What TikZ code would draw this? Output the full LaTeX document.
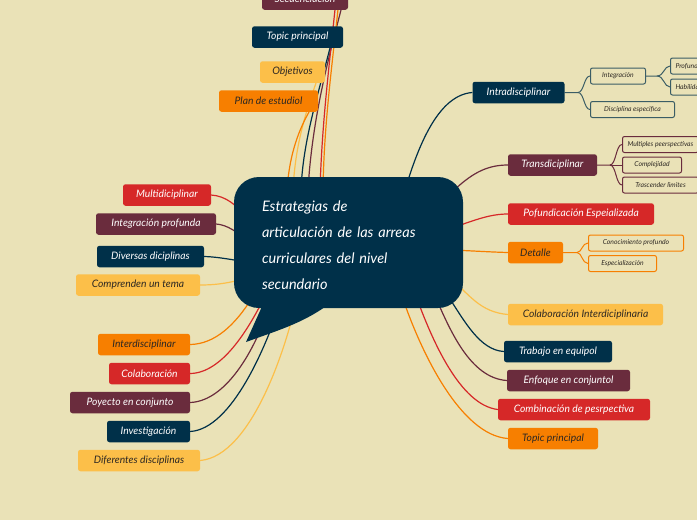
\documentclass[tikz,border=0pt]{standalone}
\usepackage{fontspec}
\setmainfont{Lato}
\pgfdeclarelayer{bg}
\pgfdeclarelayer{lines}
\pgfsetlayers{bg,lines,main}
\definecolor{navy}{RGB}{0,48,73}
\definecolor{maroon}{RGB}{106,44,61}
\definecolor{redc}{RGB}{214,40,40}
\definecolor{orangec}{RGB}{247,127,0}
\definecolor{yellowc}{RGB}{252,191,73}
\definecolor{bgc}{RGB}{234,226,183}
\definecolor{darktxt}{RGB}{45,40,35}
\tikzset{
  box/.style={rounded corners=2.5pt, minimum height=21.5pt, inner xsep=0pt, inner ysep=0pt,
    font=\itshape\fontsize{10.3}{12}\selectfont},
  bnavy/.style={box, fill=navy, text=white},
  bmaroon/.style={box, fill=maroon, text=white},
  bred/.style={box, fill=redc, text=white},
  borange/.style={box, fill=orangec, text=darktxt},
  byellow/.style={box, fill=yellowc, text=darktxt},
  sub/.style={draw=#1, line width=1pt, fill=bgc, rounded corners=2pt, minimum height=16pt,
    inner xsep=0pt, inner ysep=0pt, text=darktxt, font=\itshape\fontsize{6.8}{8}\selectfont, anchor=west},
  conn/.style={draw=#1, line width=1.2pt},
  sconn/.style={draw=#1, line width=1pt},
}
\begin{document}
\begin{tikzpicture}[x=1pt,y=-1pt]
\useasboundingbox (0,0) rectangle (697,520);
\clip (0,0) rectangle (697,520);
\begin{pgfonlayer}{bg}
\fill[bgc] (0,0) rectangle (697,520);
\end{pgfonlayer}

% central node
\fill[navy] (264,302) -- (246,342) .. controls (285,328) and (305,322) .. (332,302) -- cycle;
\node[fill=navy, rounded corners=25pt, minimum width=229pt, minimum height=131pt, inner sep=0pt] (c) at (348.5,242.5) {};
\node[text=white, align=left, text width=173pt, inner sep=0pt,
  font=\itshape\fontsize{14.5}{26}\selectfont] (ct) at (348.5,245) {Estrategias de\\articulación de las arreas\\curriculares del nivel\\secundario};

% top nodes
\node[bmaroon, minimum width=86pt] (sec) at (305,-1) {Secuenciación};
\node[bnavy, minimum width=91pt] (tp1) at (297.5,37) {Topic principal};
\node[byellow, minimum width=65pt] (obj) at (292.5,72) {Objetivos};
\node[borange, minimum width=99pt] (plan) at (268.5,101) {Plan de estudiol};
\coordinate (offr) at (337,-10);
\coordinate (offo) at (340,-10);

% left nodes
\node[bred, minimum width=88pt] (mul) at (167,195) {Multidiciplinar};
\node[bmaroon, minimum width=120pt] (intp) at (156,224) {Integración profunda};
\node[bnavy, minimum width=107pt] (div) at (150.5,256.5) {Diversas diciplinas};
\node[byellow, minimum width=124pt] (comp) at (138,285) {Comprenden un tema};
\node[borange, minimum width=92pt] (inter) at (144,344.5) {Interdisciplinar};
\node[bred, minimum width=81pt] (col) at (149.5,373.5) {Colaboración};
\node[bmaroon, minimum width=120pt] (poy) at (130,402.5) {Poyecto en conjunto};
\node[bnavy, minimum width=83pt] (inv) at (148.5,431.5) {Investigación};
\node[byellow, minimum width=122pt] (dif) at (139,460.5) {Diferentes disciplinas};

% right nodes
\node[bnavy, minimum width=92pt] (intra) at (518.5,92.5) {Intradisciplinar};
\node[bmaroon, minimum width=89pt] (trans) at (552.5,165) {Transdiciplinar};
\node[bred, minimum width=146pt] (pof) at (581,214) {Pofundicación Espeializada};
\node[borange, minimum width=55pt] (det) at (535.5,252.5) {Detalle};
\node[byellow, minimum width=155pt] (coli) at (585.5,314.5) {Colaboración Interdiciplinaria};
\node[bnavy, minimum width=108pt] (trab) at (558,351.5) {Trabajo en equipol};
\node[bmaroon, minimum width=123pt] (enf) at (568.5,380.5) {Enfoque en conjuntol};
\node[bred, minimum width=152pt] (comb) at (574,409.5) {Combinación de pesrpectiva};
\node[borange, minimum width=90pt] (tp2) at (553,438.5) {Topic principal};

% sub nodes
\node[sub=navy!75!bgc, minimum width=55pt] (integ) at (590,76) {Integración};
\node[sub=navy!75!bgc, minimum width=84pt] (dise) at (590,109.5) {Disciplina especifica};
\node[sub=navy!75!bgc, inner xsep=5pt] (prof) at (670,66) {Profundidad};
\node[sub=navy!75!bgc, inner xsep=5pt] (habil) at (670,87) {Habilidades};
\node[sub=maroon, inner xsep=5pt] (multp) at (622,144.5) {Multiples peerspectivas};
\node[sub=maroon, minimum width=59pt] (compl) at (622,165) {Complejidad};
\node[sub=maroon, minimum width=76pt] (trasc) at (622,185) {Trascender limites};
\node[sub=orangec, minimum width=95pt] (cono) at (588,243) {Conocimiento profundo};
\node[sub=orangec, minimum width=68pt] (espe) at (588,263.5) {Especialización};

\begin{pgfonlayer}{lines}
% top
\draw[conn=maroon] (341,10) .. controls (328,60) and (312,120) .. (308,190);
\draw[conn=redc] (offr) .. controls (330,60) and (322,120) .. (320,190);
\draw[conn=orangec] (offo) .. controls (333,60) and (324,120) .. (323,190);
\draw[conn=navy] (330,48) .. controls (318,95) and (303,140) .. (301,190);
\draw[conn=yellowc] (316,83) .. controls (303,120) and (295,150) .. (293,190);
\draw[conn=orangec] (309,112) .. controls (296,135) and (289,160) .. (287,190);
% left
\draw[conn=redc] (mul.east) .. controls (226,196) and (236,205) .. (248,218);
\draw[conn=maroon] (intp.east) .. controls (228,225) and (236,232) .. (248,240);
\draw[conn=navy] (div.east) .. controls (220,257) and (232,260) .. (248,262);
\draw[conn=yellowc] (comp.east) .. controls (220,285) and (232,282) .. (248,278);
\draw[conn=orangec] (inter.east) .. controls (215,344) and (235,325) .. (252,298);
\draw[conn=redc] (col.east) .. controls (222,373) and (248,330) .. (264,298);
\draw[conn=maroon] (poy.east) .. controls (228,401) and (258,345) .. (272,298);
\draw[conn=navy] (inv.east) .. controls (232,429) and (267,345) .. (282,298);
\draw[conn=yellowc] (dif.east) .. controls (252,456) and (287,345) .. (297,298);
% right
\draw[conn=navy] (intra.west) .. controls (440,95) and (420,140) .. (405,190);
\draw[conn=maroon] (trans.west) .. controls (485,165) and (470,175) .. (452,192);
\draw[conn=redc] (pof.west) .. controls (490,214) and (475,220) .. (452,228);
\draw[conn=orangec] (det.west) .. controls (490,252) and (475,251) .. (452,250);
\draw[conn=yellowc] (coli.west) .. controls (480,312) and (470,295) .. (452,280);
\draw[conn=navy] (trab.west) .. controls (480,350) and (465,322) .. (448,296);
\draw[conn=maroon] (enf.west) .. controls (470,378) and (450,330) .. (435,296);
\draw[conn=redc] (comb.west) .. controls (460,405) and (432,340) .. (416,296);
\draw[conn=orangec] (tp2.west) .. controls (460,435) and (420,350) .. (402,296);
% sub branches
\draw[sconn=navy!75!bgc] (intra.east) -- (578,92.5) .. controls (584,92.5) and (584,76) .. (integ.west);
\draw[sconn=navy!75!bgc] (578,92.5) .. controls (584,92.5) and (584,109.5) .. (dise.west);
\draw[sconn=navy!75!bgc] (integ.east) -- (657,76) .. controls (664,76) and (664,66) .. (prof.west);
\draw[sconn=navy!75!bgc] (657,76) .. controls (664,76) and (664,87) .. (habil.west);
\draw[sconn=maroon] (trans.east) -- (610,165) .. controls (616,165) and (616,144.5) .. (multp.west);
\draw[sconn=maroon] (610,165) -- (compl.west);
\draw[sconn=maroon] (610,165) .. controls (616,165) and (616,185) .. (trasc.west);
\draw[sconn=orangec] (det.east) -- (577,252.5) .. controls (582,252.5) and (582,243) .. (cono.west);
\draw[sconn=orangec] (577,252.5) .. controls (582,252.5) and (582,263.5) .. (espe.west);
\end{pgfonlayer}
\end{tikzpicture}
\end{document}
